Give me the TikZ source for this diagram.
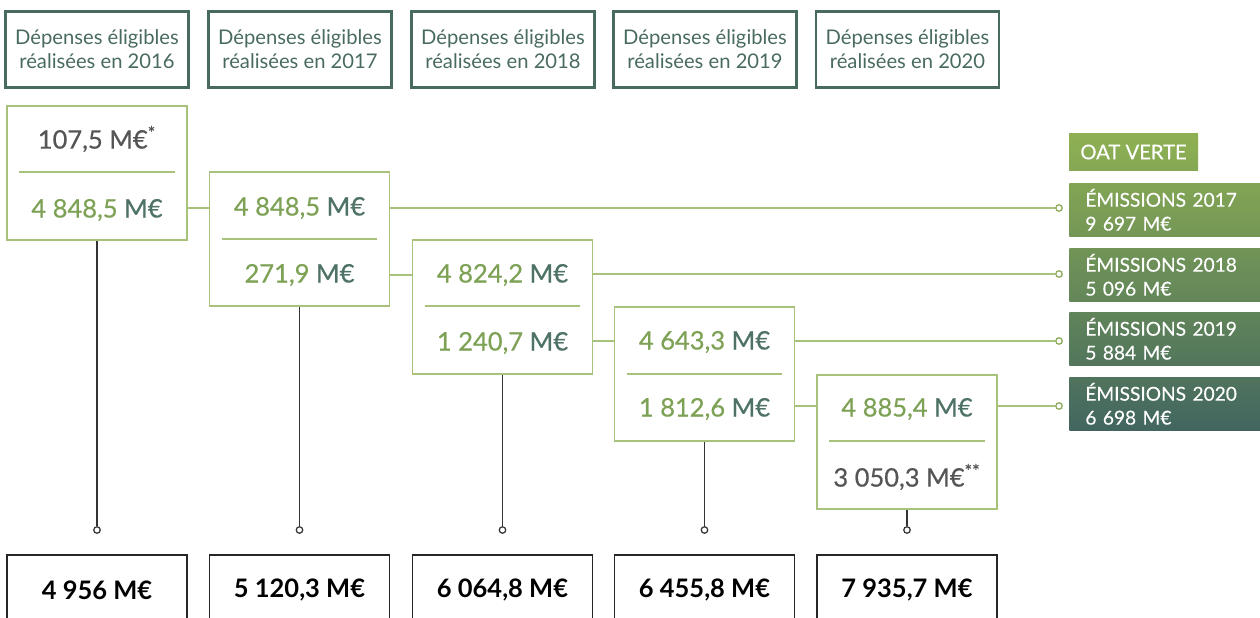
\documentclass[tikz,border=0pt]{standalone}
\usepackage{fontspec}
\setmainfont{Lato}
\newfontfamily\amountfont{Lato}[FakeBold=0.6]
\newfontfamily\labelfont{Lato}[FakeBold=0.3]
\usetikzlibrary{positioning,calc}
\definecolor{ecoteal}{HTML}{496B5F}
\definecolor{ecogreen}{HTML}{A9C27B}
\definecolor{pingreen}{HTML}{8CAB56}
\definecolor{numgreen}{HTML}{7DA155}
\definecolor{numteal}{HTML}{4E7264}
\definecolor{numgray}{HTML}{555555}
\definecolor{oattop}{HTML}{8FB152}
\definecolor{oatbot}{HTML}{42665F}
\newcommand{\meur}[1]{\textcolor{numgreen}{#1}~\textcolor{numteal}{M€}}

\begin{document}
\begin{tikzpicture}[x=0.02cm, y=-0.02cm,
    head/.style={rectangle, draw=ecoteal, line width=1.4pt, minimum width=3.66cm, minimum height=1.52cm, align=center, text=ecoteal, font=\fontsize{11.5}{13.6}\selectfont},
    yearbox/.style={rectangle, draw=ecogreen, line width=0.9pt, minimum width=3.6cm, minimum height=2.68cm},
    amount/.style={inner sep=0pt, font=\amountfont\fontsize{14.5}{16}\selectfont},
    total/.style={rectangle, draw=black!85, line width=0.8pt, minimum width=3.6cm, minimum height=1.4cm, font=\bfseries\fontsize{14.5}{16}\selectfont},
    link/.style={draw=ecogreen, line width=0.9pt},
    tie/.style={draw=black!80, line width=0.7pt},
    pin/.style={circle, draw=pingreen, line width=0.7pt, fill=white, inner sep=0pt, minimum size=0.13cm},
    bpin/.style={circle, draw=black!80, line width=0.7pt, fill=white, inner sep=0pt, minimum size=0.13cm},
    oat/.style={rectangle, anchor=north west, inner xsep=0.32cm, inner ysep=0pt, text width=3.3cm, minimum height=1.06cm, align=left, text=white, font=\labelfont\fontsize{10.9}{13.6}\selectfont}
]
    \clip (0,0) rectangle (1260,618);

    % Column headers
    \node[head] (H1) at (97,49.5) {Dépenses éligibles\\réalisées en 2016};
    \node[head] (H2) at (300,49.5) {Dépenses éligibles\\réalisées en 2017};
    \node[head] (H3) at (503,49.5) {Dépenses éligibles\\réalisées en 2018};
    \node[head] (H4) at (705,49.5) {Dépenses éligibles\\réalisées en 2019};
    \node[head] (H5) at (907.5,49.5) {Dépenses éligibles\\réalisées en 2020};

    % Yearly boxes
    \node[yearbox] (B1) at (97,173) {};
    \node[yearbox] (B2) at (299.5,239) {};
    \node[yearbox] (B3) at (502.5,307) {};
    \node[yearbox] (B4) at (704.5,374) {};
    \node[yearbox] (B5) at (907,442) {};

    % Amounts inside the boxes
    \node[amount, numgray] (t1a) at (97,139) {107,5 M€\textsuperscript{*}};
    \node[amount] (t1b) at (97,210) {\meur{4 848,5}};
    \node[amount] (t2a) at (299.5,208) {\meur{4 848,5}};
    \node[amount] (t2b) at (299.5,275) {\meur{271,9}};
    \node[amount] (t3a) at (502.5,275) {\meur{4 824,2}};
    \node[amount] (t3b) at (502.5,343) {\meur{1 240,7}};
    \node[amount] (t4a) at (704.5,342) {\meur{4 643,3}};
    \node[amount] (t4b) at (704.5,409) {\meur{1 812,6}};
    \node[amount] (t5a) at (907,409) {\meur{4 885,4}};
    \node[amount, numgray] (t5b) at (907,477) {3 050,3 M€\textsuperscript{**}};

    % Separators
    \draw[link] ([xshift=0.26cm]B1.west |- 0,172) -- ([xshift=-0.26cm]B1.east |- 0,172);
    \draw[link] ([xshift=0.26cm]B2.west |- 0,239) -- ([xshift=-0.26cm]B2.east |- 0,239);
    \draw[link] ([xshift=0.26cm]B3.west |- 0,306) -- ([xshift=-0.26cm]B3.east |- 0,306);
    \draw[link] ([xshift=0.26cm]B4.west |- 0,374) -- ([xshift=-0.26cm]B4.east |- 0,374);
    \draw[link] ([xshift=0.26cm]B5.west |- 0,441) -- ([xshift=-0.26cm]B5.east |- 0,441);

    % Green bond labels
    \node[rectangle, top color=oattop, bottom color=oatbot!13!oattop, minimum width=2.58cm, minimum height=0.76cm, text=white, font=\labelfont\fontsize{11.5}{13.6}\selectfont] (OAT) at (1133.5,152) {OAT VERTE};
    \node[oat, top color=oatbot!17!oattop, bottom color=oatbot!35!oattop] (E1) at (1069,183) {ÉMISSIONS 2017\\9 697 M€};
    \node[oat, top color=oatbot!39!oattop, bottom color=oatbot!57!oattop] (E2) at (1069,248) {ÉMISSIONS 2018\\5 096 M€};
    \node[oat, top color=oatbot!60!oattop, bottom color=oatbot!79!oattop] (E3) at (1069,312) {ÉMISSIONS 2019\\5 884 M€};
    \node[oat, top color=oatbot!82!oattop, bottom color=oatbot] (E4) at (1069,377) {ÉMISSIONS 2020\\6 698 M€};

    % Pins in front of the labels
    \node[pin] (p1) at (1059,208) {};
    \node[pin] (p2) at (1059,274) {};
    \node[pin] (p3) at (1059,341) {};
    \node[pin] (p4) at (1059,406) {};

    % Carry-over links between boxes
    \draw[link] (B1.east |- t2a) -- (B2.west |- t2a);
    \draw[link] (B2.east |- t3a) -- (B3.west |- t3a);
    \draw[link] (B3.east |- p3) -- (B4.west |- p3);
    \draw[link] (B4.east |- p4) -- (B5.west |- p4);

    % Links to the issues
    \draw[link] (B2.east |- p1) -- (p1);
    \draw[link] (B3.east |- p2) -- (p2);
    \draw[link] (B4.east |- p3) -- (p3);
    \draw[link] (B5.east |- p4) -- (p4);

    % Yearly totals
    \node[total] (T1) at (97,590) {4 956 M€};
    \node[total] (T2) at (299.5,590) {5 120,3 M€};
    \node[total] (T3) at (502.5,590) {6 064,8 M€};
    \node[total] (T4) at (704.5,590) {6 455,8 M€};
    \node[total] (T5) at (907,590) {7 935,7 M€};

    \node[bpin] (q1) at (97,530) {};
    \node[bpin] (q2) at (299.5,530) {};
    \node[bpin] (q3) at (502.5,530) {};
    \node[bpin] (q4) at (704.5,530) {};
    \node[bpin] (q5) at (907,530) {};

    \draw[tie] (B1.south) -- (q1);
    \draw[tie] (B2.south) -- (q2);
    \draw[tie] (B3.south) -- (q3);
    \draw[tie] (B4.south) -- (q4);
    \draw[tie] (B5.south) -- (q5);

\end{tikzpicture}
\end{document}
